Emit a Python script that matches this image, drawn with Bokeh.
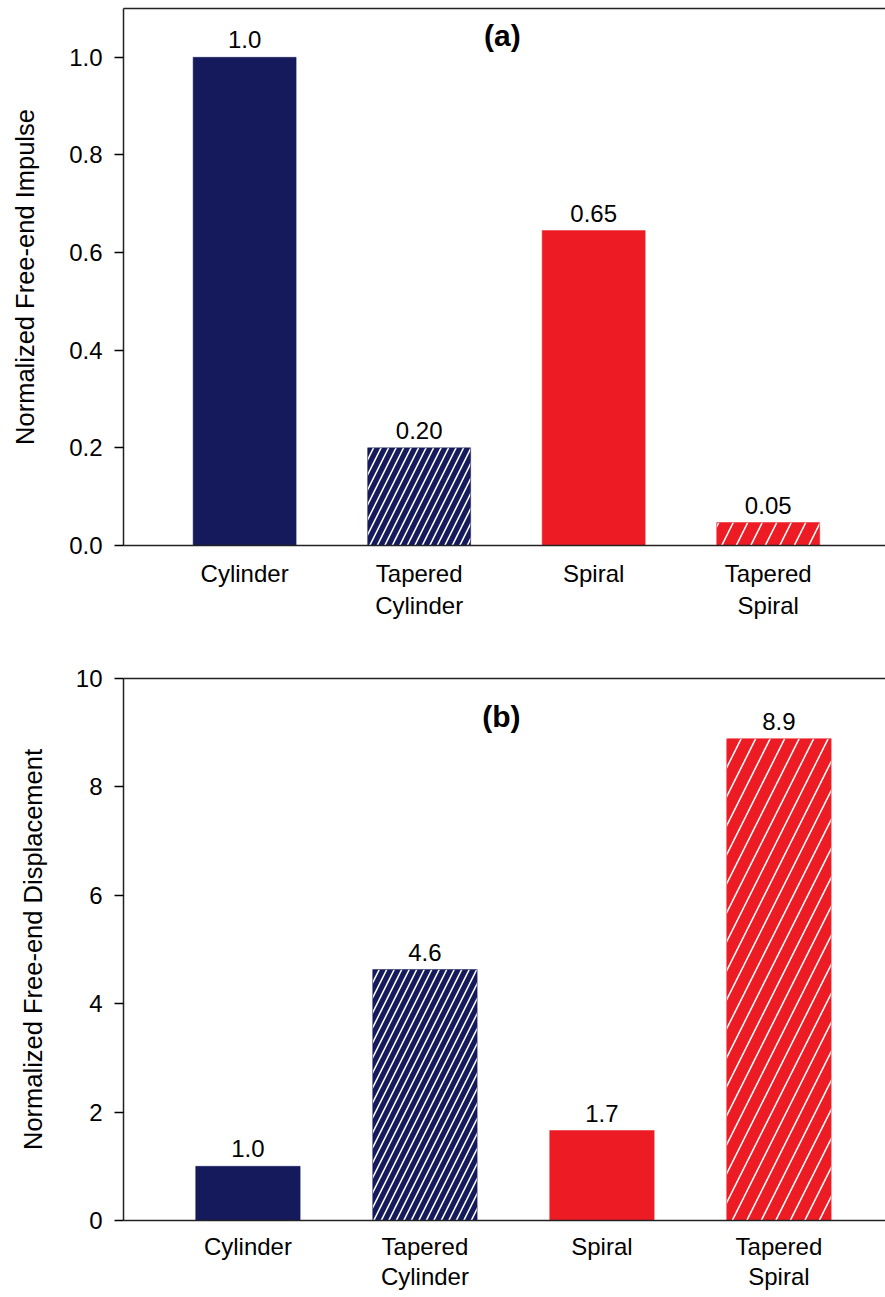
from bokeh.plotting import figure
from bokeh.models import (ColumnDataSource, Range1d, FixedTicker, LabelSet, Label,
                          LinearAxis)
from bokeh.core.properties import value
from bokeh.layouts import column
from bokeh.embed import file_html
from bokeh.resources import INLINE

# ---- data ----
categories = ["Cylinder", "Tapered\nCylinder", "Spiral", "Tapered\nSpiral"]
impulse = [1.0, 0.20, 0.645, 0.047]
impulse_labels = ["1.0", "0.20", "0.65", "0.05"]
impulse_ticks = [0.0, 0.2, 0.4, 0.6, 0.8, 1.0]
displacement = [1.0, 4.63, 1.66, 8.89]
displacement_labels = ["1.0", "4.6", "1.7", "8.9"]
displacement_ticks = [0, 2, 4, 6, 8, 10]
bar_colors = ["#151A5C", "#151A5C", "#ED1C24", "#ED1C24"]
hatches = [" ", "/", " ", "/"]
hatch_scales = [15, 15, 29, 29]

FONT = "Liberation Sans"
FS = "24px"


def make_panel(values, labels, ylabel, panel_label, yticks, yfmt, ymax,
               x_start, x_end, height, b_left, b_top, b_bottom,
               tag_x, tag_y, label_standoff, xlab_standoff, xlab_lh):
    pos = list(range(len(categories)))
    src = ColumnDataSource(dict(x=pos, top=values, color=bar_colors,
                                hatch=hatches, hs=hatch_scales, lab=labels))
    p = figure(width=885, height=height, output_backend="svg",
               toolbar_location=None, x_range=Range1d(x_start, x_end),
               y_range=Range1d(0, ymax),
               min_border_left=b_left, min_border_right=0,
               min_border_top=b_top, min_border_bottom=b_bottom)
    p.outline_line_color = None
    p.grid.visible = False
    p.background_fill_color = "white"
    p.border_fill_color = "white"

    p.vbar(x="x", top="top", width=0.59, source=src, fill_color="color",
           line_color="color", line_width=0.5,
           hatch_pattern="hatch", hatch_color="white", hatch_scale="hs",
           hatch_weight=1.6)

    # value labels above bars
    p.add_layout(LabelSet(x="x", y="top", text="lab", source=src,
                          text_align="center", text_baseline="bottom",
                          y_offset=9, text_font=value(FONT),
                          text_font_size=value(FS), text_color="black"))

    p.add_layout(Label(x=tag_x, y=tag_y, text=panel_label, text_align="center",
                       text_baseline="middle", text_font=FONT,
                       text_font_size="30px", text_font_style="bold",
                       text_color="black"))

    # x axis with category labels
    xa = p.xaxis[0]
    xa.ticker = FixedTicker(ticks=pos)
    xa.major_label_overrides = {i: c for i, c in enumerate(categories)}
    xa.major_tick_line_color = None
    xa.minor_tick_line_color = None
    xa.major_tick_out = 0
    xa.major_tick_in = 0
    xa.major_label_text_font = FONT
    xa.major_label_text_font_size = FS
    xa.major_label_text_line_height = xlab_lh
    xa.major_label_text_color = "black"
    xa.major_label_standoff = xlab_standoff
    xa.axis_line_width = 1.5
    xa.axis_line_color = "#222222"

    # y axis
    ya = p.yaxis[0]
    ya.ticker = FixedTicker(ticks=yticks)
    ya.major_label_overrides = {t: yfmt.format(t) for t in yticks}
    ya.minor_tick_line_color = None
    ya.major_tick_in = 0
    ya.major_tick_out = 9
    ya.major_tick_line_width = 1.3
    ya.major_label_standoff = 12
    ya.major_label_text_font = FONT
    ya.major_label_text_font_size = FS
    ya.major_label_text_color = "black"
    ya.axis_label = ylabel
    ya.axis_label_text_font = FONT
    ya.axis_label_text_font_size = "25.5px"
    ya.axis_label_text_font_style = "normal"
    ya.axis_label_text_color = "black"
    ya.axis_label_standoff = label_standoff
    ya.axis_line_width = 1.5
    ya.axis_line_color = "#222222"

    # top frame line
    top = LinearAxis(ticker=FixedTicker(ticks=[]),
                     major_tick_line_color=None, minor_tick_line_color=None,
                     major_label_standoff=0, major_tick_out=0, major_tick_in=0,
                     axis_line_width=1.5, axis_line_color="#222222")
    p.add_layout(top, "above")
    return p


p1 = make_panel(impulse, impulse_labels, "Normalized Free-end Impulse", "(a)",
                impulse_ticks, "{:.1f}", 1.1,
                -0.694, 3.672, 638, 121, 8, 93,
                1.477, 1.045, 27, 14, 1.2)
p2 = make_panel(displacement, displacement_labels,
                "Normalized Free-end Displacement", "(b)",
                displacement_ticks, "{:.0f}", 10,
                -0.703, 3.602, 659, 123, 40, 77,
                1.432, 9.3, 26, 12, 1.12)

layout = column(p1, p2, spacing=0)
open("out.html", "w").write(file_html(layout, INLINE))
